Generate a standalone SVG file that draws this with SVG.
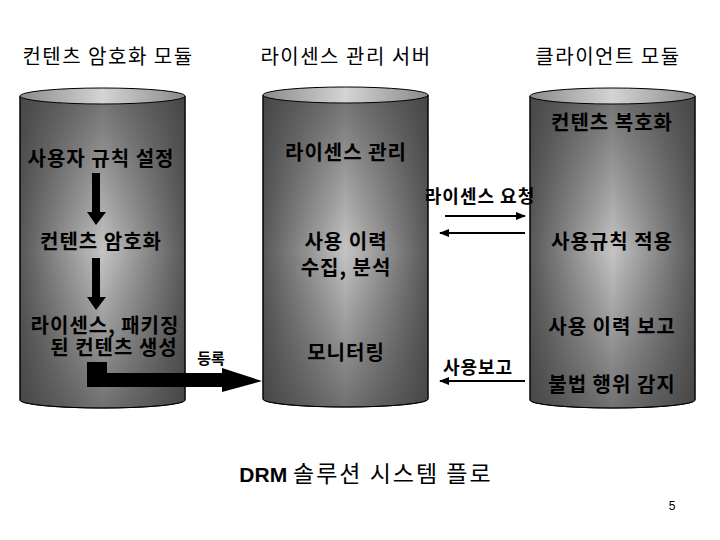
<svg xmlns="http://www.w3.org/2000/svg" width="720" height="540" viewBox="0 0 720 540">
<defs>
<linearGradient id="gh" x1="0" y1="0" x2="1" y2="0">
<stop offset="0" stop-color="#585858"/>
<stop offset="0.5" stop-color="#c4c4c4"/>
<stop offset="1" stop-color="#585858"/>
</linearGradient>
<linearGradient id="gv" x1="0" y1="0" x2="0" y2="1">
<stop offset="0" stop-color="#3a3a3a" stop-opacity="0.6"/>
<stop offset="0.5" stop-color="#3a3a3a" stop-opacity="0"/>
<stop offset="1" stop-color="#3a3a3a" stop-opacity="0.6"/>
</linearGradient>
<linearGradient id="gtop" x1="0" y1="0" x2="1" y2="0">
<stop offset="0" stop-color="#8a8a8a"/>
<stop offset="0.5" stop-color="#d4d4d4"/>
<stop offset="1" stop-color="#8a8a8a"/>
</linearGradient>
<marker id="ah" viewBox="0 0 10 10" refX="9" refY="5" markerWidth="5" markerHeight="5" orient="auto-start-reverse" markerUnits="strokeWidth">
<path d="M0,1 L10,5 L0,9 Z" fill="#000"/>
</marker>
</defs>
<style>
text{font-family:"Noto Sans CJK KR","Liberation Sans",sans-serif;fill:#000;text-anchor:middle}
.t{font-size:20px;letter-spacing:1.5px}
.in{font-size:20px;font-weight:bold;letter-spacing:1px}
.s{font-size:18px;font-weight:bold;letter-spacing:1px}
.r{font-size:15px;font-weight:bold}
.cyl path{stroke:#000;stroke-width:1}
.ln{stroke:#000;stroke-width:2;fill:none}
</style>
<rect width="720" height="540" fill="#fff"/>

<text class="t" x="108" y="64">컨텐츠 암호화 모듈</text>
<text class="t" x="346" y="64">라이센스 관리 서버</text>
<text class="t" x="608" y="64">클라이언트 모듈</text>

<g id="cyl-left" class="cyl">
<path d="M20,96 L20,400 A82.5,8 0 0 0 185,400 L185,96 Z" fill="url(#gh)"/>
<path d="M20,96 L20,400 A82.5,8 0 0 0 185,400 L185,96 Z" fill="url(#gv)" stroke="none"/>
<path d="M20,96 A82.5,8 0 0 1 185,96 A82.5,8 0 0 1 20,96 Z" fill="url(#gtop)"/>
<text class="in" x="101" y="166">사용자 규칙 설정</text>
<text class="in" x="101" y="249">컨텐츠 암호화</text>
<text class="in"><tspan x="105" y="333">라이센스, 패키징</tspan><tspan x="114" y="355">된 컨텐츠 생성</tspan></text>
</g>

<g id="cyl-mid" class="cyl">
<path d="M263,95 L263,399 A82.5,8 0 0 0 428,399 L428,95 Z" fill="url(#gh)"/>
<path d="M263,95 L263,399 A82.5,8 0 0 0 428,399 L428,95 Z" fill="url(#gv)" stroke="none"/>
<path d="M263,95 A82.5,8 0 0 1 428,95 A82.5,8 0 0 1 263,95 Z" fill="url(#gtop)"/>
<text class="in" x="346" y="160">라이센스 관리</text>
<text class="in"><tspan x="346" y="249">사용 이력</tspan><tspan x="346" y="275">수집, 분석</tspan></text>
<text class="in" x="346" y="360">모니터링</text>
</g>

<g id="cyl-right" class="cyl">
<path d="M530,96 L530,400 A82.5,8 0 0 0 695,400 L695,96 Z" fill="url(#gh)"/>
<path d="M530,96 L530,400 A82.5,8 0 0 0 695,400 L695,96 Z" fill="url(#gv)" stroke="none"/>
<path d="M530,96 A82.5,8 0 0 1 695,96 A82.5,8 0 0 1 530,96 Z" fill="url(#gtop)"/>
<text class="in" x="612" y="130">컨텐츠 복호화</text>
<text class="in" x="612" y="249">사용규칙 적용</text>
<text class="in" x="612" y="334">사용 이력 보고</text>
<text class="in" x="612" y="392">불법 행위 감지</text>
</g>

<g id="connectors">
<polygon points="92,173 100,173 100,212 106,212 96,225 87,212 92,212" fill="#000"/>
<polygon points="92,258 100,258 100,297 106,297 96,310 87,297 92,297" fill="#000"/>
<polygon points="87,362 107,362 107,373 222,373 222,368 262,381 222,392 222,387 87,387" fill="#000"/>
<line class="ln" x1="445" y1="216" x2="525" y2="216" marker-end="url(#ah)"/>
<line class="ln" x1="525" y1="233" x2="440" y2="233" marker-end="url(#ah)"/>
<line class="ln" x1="525" y1="381" x2="440" y2="381" marker-end="url(#ah)"/>
<text class="r" x="211" y="364">등록</text>
<text class="s" x="480" y="203">라이센스 요청</text>
<text class="s" x="478" y="374">사용보고</text>
</g>

<text x="366" y="482" style="font-size:23px;letter-spacing:2px"><tspan font-weight="bold" style="font-size:21px;font-family:'Liberation Sans',sans-serif;letter-spacing:0">DRM </tspan>솔루션 시스템 플로</text>
<text x="672" y="510" style="font-size:12px;font-family:'Liberation Sans',sans-serif">5</text>
</svg>
